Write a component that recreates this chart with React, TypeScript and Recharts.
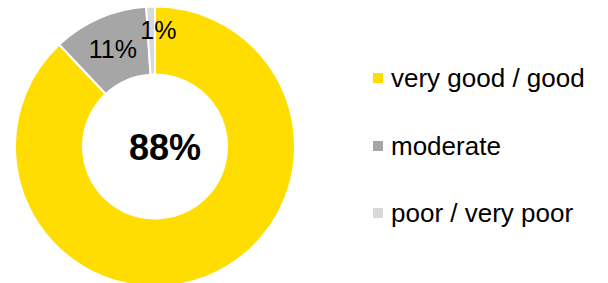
import { PieChart, Pie, Cell, Legend } from "recharts"

const categories = ["very good / good", "moderate", "poor / very poor"]
const shares = [88, 11, 1]
const colors = ["#FFDD00", "#A6A6A6", "#D9D9D9"]

const data = categories.map((name, i) => ({ name, value: shares[i] }))

const font = "'Liberation Sans', Arial, sans-serif"
const RAD = Math.PI / 180

// label placement inside the ring, small slice nudged outward like the original
const labelRadius = [0, 0.5, 0.66]
const labelNudge = [0, 0, 7]

function renderLabel(props: any) {
  const { cx, cy, midAngle, innerRadius, outerRadius, value, index } = props
  if (index === 0) {
    return (
      <text x={cx + 10} y={cy + 13} textAnchor="middle" fontSize={36} fontWeight="bold" fill="#000" fontFamily={font}>
        {value}%
      </text>
    )
  }
  const r = innerRadius + (outerRadius - innerRadius) * labelRadius[index]
  const x = cx + r * Math.cos(-midAngle * RAD) + labelNudge[index]
  const y = cy + r * Math.sin(-midAngle * RAD)
  return (
    <text x={x} y={y + 9} textAnchor="middle" fontSize={25} fill="#000" fontFamily={font}>
      {value}%
    </text>
  )
}

function LegendContent() {
  return (
    <div style={{ fontFamily: font, fontSize: 26, lineHeight: "26px", color: "#000" }}>
      {categories.map((c, i) => (
        <div key={c} style={{ display: "flex", alignItems: "center", height: 26, marginBottom: i < 2 ? 41.5 : 0 }}>
          <span style={{ width: 10, height: 10, background: colors[i], marginRight: 8, display: "inline-block" }} />
          <span style={{ whiteSpace: "nowrap" }}>{c}</span>
        </div>
      ))}
    </div>
  )
}

export default function App() {
  return (
    <div style={{ position: "absolute", left: 0, top: 0, width: 608, height: 283, background: "#fff" }}>
      <PieChart width={608} height={283} margin={{ top: 0, right: 0, bottom: 0, left: 0 }}>
        <Pie
          data={data}
          dataKey="value"
          nameKey="name"
          cx={155}
          cy={146.5}
          innerRadius={72}
          outerRadius={140}
          startAngle={90}
          endAngle={-270}
          stroke="#fff"
          strokeWidth={2}
          label={renderLabel}
          labelLine={false}
          isAnimationActive={false}
        >
          {data.map((d, i) => (
            <Cell key={d.name} fill={colors[i]} />
          ))}
        </Pie>
        <Legend content={<LegendContent />} wrapperStyle={{ position: "absolute", left: 373, top: 65, width: 235 }} />
      </PieChart>
    </div>
  )
}
